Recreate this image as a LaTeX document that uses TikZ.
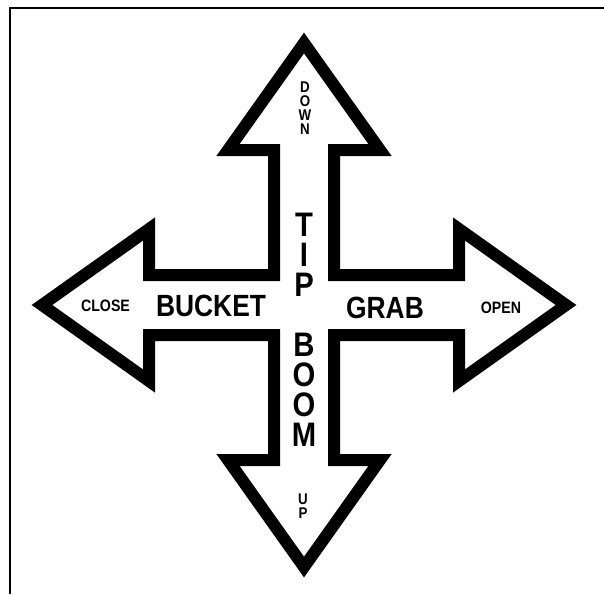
\documentclass[tikz,border=0pt]{standalone}
\usepackage{fontspec}
\setmainfont{Liberation Sans}
\newfontfamily\signfont[FakeStretch=0.86]{Liberation Sans}

\begin{document}
\begin{tikzpicture}[
  x=1pt, y=-1pt,
  arms/.style={draw=black, fill=white, line width=12pt, line join=miter},
  frame/.style={line width=2.5pt},
  bigword/.style={inner sep=0pt, font=\signfont\bfseries\fontsize{30.7}{30}\selectfont},
  smallword/.style={inner sep=0pt, font=\signfont\bfseries\fontsize{16.5}{16}\selectfont},
  bigstack/.style={inner sep=0pt, align=center,
              font=\signfont\bfseries\fontsize{34}{30}\selectfont},
  smallstack/.style={inner sep=0pt, align=center,
              font=\signfont\bfseries\fontsize{15.5}{14}\selectfont},
]
\useasboundingbox (0,0) rectangle (604,594);

% frame (top and left edge only)
\draw[frame] (604,8) -- (10,8) -- (10,594);

% four-way arrow
\draw[arms] (304,43) -- (380,150) -- (334,150) -- (334,275)
  -- (459,275) -- (459,229) -- (566,305) -- (459,381) -- (459,335)
  -- (334,335) -- (334,460) -- (380,460) -- (304,567) -- (228,460)
  -- (274,460) -- (274,335) -- (149,335) -- (149,381) -- (42,305)
  -- (149,229) -- (149,275) -- (274,275) -- (274,150) -- (228,150)
  -- cycle;

% arm labels
\node[bigword] (bucket) at (211,306) {BUCKET};
\node[bigword] (grab) at (385,307.5) {GRAB};
\node[smallword] (close) at (105.5,306) {CLOSE};
\node[smallword] (open) at (501,307.5) {OPEN};

% shaft labels
\node[bigstack] (tip) at (304,255) {T\\I\\P};
\node[bigstack] (boom) at (304,389.5) {B\\O\\O\\M};
\node[smallstack] (down) at (305,108.5) {D\\O\\W\\N};
\node[smallstack] (up) at (303,506.5) {U\\P};

\end{tikzpicture}
\end{document}
